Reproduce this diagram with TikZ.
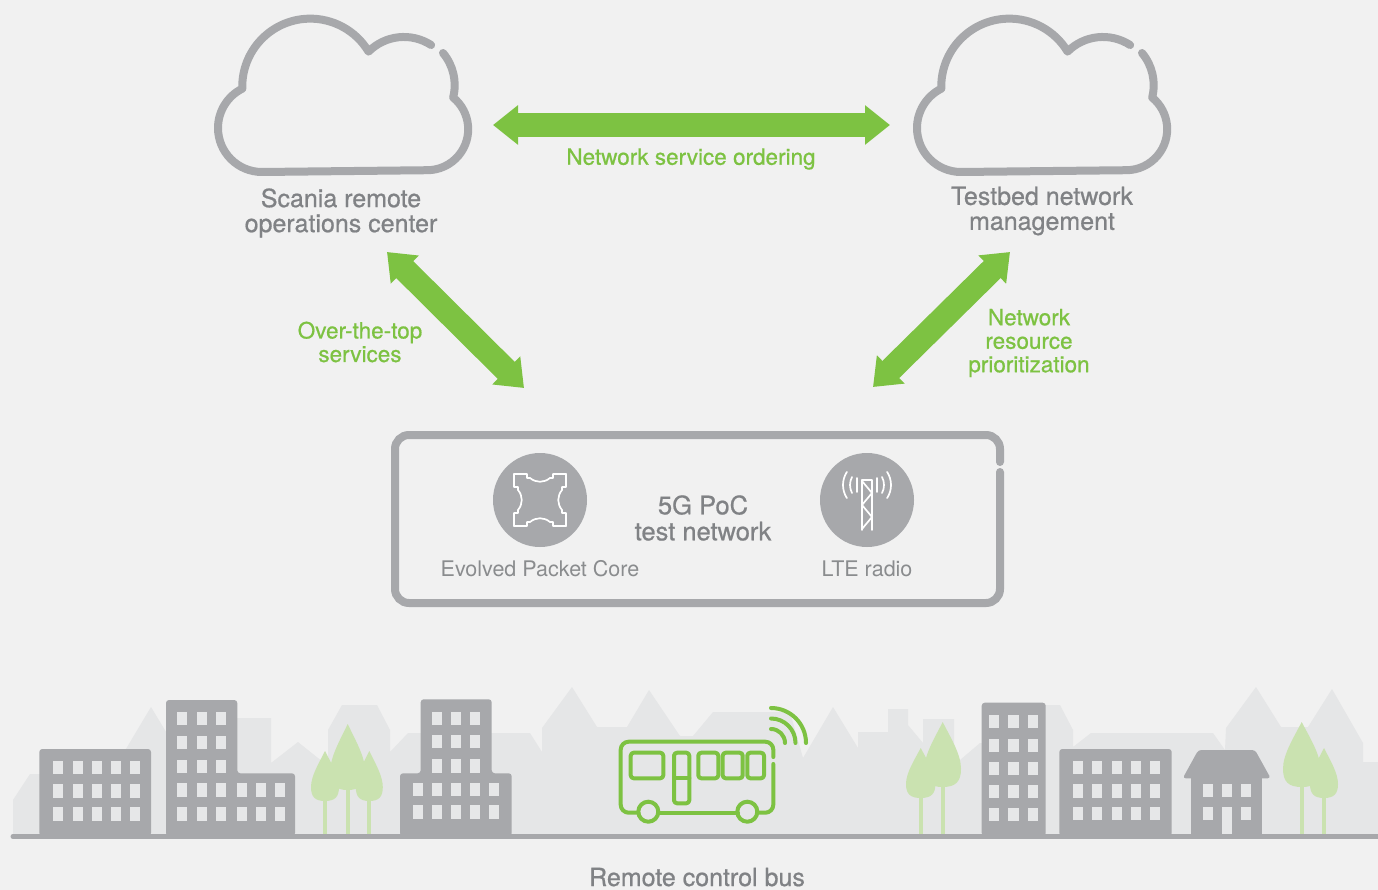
\documentclass[tikz,border=0pt]{standalone}
\usepackage{fontspec}
\setmainfont{TeX Gyre Heros}
\newfontfamily\medfont{TeX Gyre Heros}[FakeBold=0.7]
\usetikzlibrary{arrows.meta}
\definecolor{bgcol}{HTML}{F1F1F1}
\definecolor{skycol}{HTML}{E5E6E7}
\definecolor{bldcol}{HTML}{A7A8AB}
\definecolor{wincol}{HTML}{E6E7E8}
\definecolor{linegray}{HTML}{A7A8AB}
\definecolor{txtgray}{HTML}{808285}
\definecolor{softgray}{HTML}{8A8C8E}
\definecolor{netgreen}{HTML}{7DC242}
\definecolor{leafcol}{HTML}{CAE2B0}

% leaf of a tree: top x, top y, half width, height
\newcommand{\leafblob}[4]{%
  \fill[leafcol] (#1,#2)
    .. controls ({#1+0.45*#3},{#2+0.25*#4}) and ({#1+#3},{#2+0.5*#4}) .. ({#1+#3},{#2+0.72*#4})
    .. controls ({#1+#3},{#2+0.92*#4}) and ({#1+0.7*#3},{#2+#4}) .. (#1,{#2+#4})
    .. controls ({#1-0.7*#3},{#2+#4}) and ({#1-#3},{#2+0.92*#4}) .. ({#1-#3},{#2+0.72*#4})
    .. controls ({#1-#3},{#2+0.5*#4}) and ({#1-0.45*#3},{#2+0.25*#4}) .. (#1,#2) -- cycle;
  \draw[leafcol, line width=4pt] (#1,{#2+0.8*#4}) -- (#1,836);
}

\begin{document}
\begin{tikzpicture}[x=1pt,y=-1pt,
  cloudline/.style={draw=linegray, line width=8pt, line cap=round, line join=round},
  bigarrow/.style={draw=netgreen, line width=24pt,
    {Triangle[width=38pt,length=25pt]}-{Triangle[width=38pt,length=25pt]}},
  graylbl/.style={text=txtgray, align=center, inner sep=0pt, font=\medfont\fontsize{25}{25}\selectfont},
  greenlbl/.style={text=netgreen, align=center, inner sep=0pt, font=\medfont\fontsize{22.5}{23.5}\selectfont},
  iconlbl/.style={text=softgray, inner sep=0pt, font=\fontsize{21.5}{24}\selectfont},
  iconbg/.style={circle, fill=bldcol, minimum size=94pt, inner sep=0pt},
  iconline/.style={draw=white, line width=1.7pt, line join=round, line cap=round},
  busline/.style={draw=netgreen, line width=4pt, line cap=round, line join=round},
  bld/.style={fill=bldcol, rounded corners=3pt},
  cloudicon/.pic={
    \draw[cloudline] (443,53) arc[start angle=320, end angle=374.3, radius=50]
      arc[start angle=309.3, end angle=450, radius=41]
      -- (262,172)
      arc[start angle=90, end angle=243.4, radius=44]
      arc[start angle=178.3, end angle=329, radius=68]
      arc[start angle=225, end angle=303, radius=50];
  }]
\useasboundingbox (0,0) rectangle (1378,890);
\fill[bgcol] (0,0) rectangle (1378,890);

% ---------- skyline silhouette ----------
\fill[skycol] (13,836) -- (13,800) -- (30,774) -- (111,774) -- (151,707) -- (180,755)
  -- (200,755) -- (230,718) -- (271,718) -- (271,763) -- (298,742) -- (328,766)
  -- (328,730) -- (342,705) -- (377,705) -- (390,730) -- (390,752) -- (408,733)
  -- (530,733) -- (542,752) -- (542,728) -- (572,687) -- (597,727) -- (627,727)
  -- (649,690) -- (680,736) -- (693,736) -- (713,712) -- (790,712) -- (803,758)
  -- (833,707) -- (858,748) -- (858,732) -- (888,732) -- (888,709) -- (908,709)
  -- (908,725) -- (923,743) -- (923,719) -- (954,719) -- (954,760) -- (960,760)
  -- (980,743) -- (1000,743) -- (1045,705) -- (1060,705) -- (1073,730) -- (1073,747)
  -- (1091,733) -- (1213,733) -- (1225,750) -- (1226,728) -- (1256,687) -- (1281,727)
  -- (1308,727) -- (1332,689) -- (1363,743) -- (1363,762) -- (1378,762) -- (1378,836) -- cycle;

% ---------- buildings ----------
\fill[bld] (39.3,836) rectangle (151,749);
\foreach \x in {53.3,72.5,91.7,110.9,130.1}
  \foreach \y in {761,784.2,807.4}
    \fill[wincol] (\x,\y) rectangle ++(10,13.3);

\fill[bld] (166,836) -- (166,700) -- (237.3,700) -- (237.3,773.3) -- (295,773.3) -- (295,836) -- cycle;
\foreach \x in {177.3,196.7,216}
  \foreach \y in {711.7,735.6,759.6,783.4,807.3}
    \fill[wincol] (\x,\y) rectangle ++(10,13.3);
\foreach \x in {237.3,255.9,274.9}
  \foreach \y in {783.4,807.3}
    \fill[wincol] (\x,\y) rectangle ++(10,13.3);

\fill[bld] (400,836) -- (400,773.3) -- (420.7,773.3) -- (420.7,699.3) -- (491.7,699.3)
  -- (491.7,773.3) -- (511.7,773.3) -- (511.7,836) -- cycle;
\foreach \x in {431.7,450.7,470}
  \foreach \y in {711.7,735,759.3}
    \fill[wincol] (\x,\y) rectangle ++(10,13.3);
\foreach \x in {412.7,431.7,450.7,470,489.3}
  \foreach \y in {782.7,805.3}
    \fill[wincol] (\x,\y) rectangle ++(10,13.3);

\fill[bld] (981.7,836) rectangle (1045.7,702.7);
\foreach \x in {989,1008.3,1027.7}
  \foreach \y in {715,739,761.7,785,807.7}
    \fill[wincol] (\x,\y) rectangle ++(10.3,13.3);

\fill[bld] (1059.3,836) rectangle (1171.7,749);
\foreach \x in {1073.3,1092.3,1111.7,1131,1150}
  \foreach \y in {761,784.3,807}
    \fill[wincol] (\x,\y) rectangle ++(10,13.3);

% house
\fill[bld] (1182.7,778.3) -- (1198.3,750) -- (1255,750) -- (1270.7,778.3) -- cycle;
\fill[bldcol] (1191,776) rectangle (1262.3,836);
\foreach \x in {1202.7,1221.7,1241}
  \fill[wincol] (\x,784) rectangle ++(10,13.3);
\foreach \x in {1202.7,1241}
  \fill[wincol] (\x,807) rectangle ++(10,13.3);
\fill[wincol] (1221.7,807) rectangle (1231.7,836);

% ---------- trees ----------
\leafblob{347.7}{724}{17.5}{66}
\leafblob{325}{751}{14}{50}
\leafblob{369.3}{751}{13.5}{50}
\leafblob{942.7}{722}{18.3}{65}
\leafblob{920.7}{748}{14.7}{50}
\leafblob{1301.7}{722}{18.7}{65}
\leafblob{1324}{748}{14}{50}

% ground
\draw[draw=bldcol, line width=5pt, line cap=round] (13,836.5) -- (1395,836.5);

% ---------- bus ----------
\draw[busline, rounded corners=8pt] (773.3,764) -- (773.3,812.7) -- (757.3,812.7);
\draw[busline] (738,812.7) -- (658,812.7);
\draw[busline, rounded corners=8pt] (638.3,812.7) -- (620.7,812.7) -- (620.7,741.7) -- (773.3,741.7) -- (773.3,757);
\draw[busline] (648.3,811.7) circle[radius=10];
\draw[busline] (747.3,811.7) circle[radius=10];
\draw[busline, rounded corners=3pt] (630.7,752.7) rectangle (663.3,778.3);
\draw[busline, rounded corners=3pt] (674,752.7) rectangle (689.3,803.3);
\draw[busline] (674,778.3) -- (689.3,778.3);
\draw[busline, rounded corners=3pt] (698.3,752.7) rectangle (718.3,778.3);
\draw[busline, rounded corners=3pt] (722.7,752.7) rectangle (742.7,778.3);
\draw[busline, rounded corners=3pt] (747.3,752.7) rectangle (764,778.3);
\foreach \r in {14,24.5,35}
  \draw[busline] (771,{743-\r}) arc[start angle=270, end angle=360, radius=\r];

% ---------- test network box ----------
\draw[draw=linegray, line width=8pt, line cap=round, rounded corners=14pt]
  (1000,472) -- (1000,603) -- (395,603) -- (395,435) -- (1000,435) -- (1000,462);

\node[iconbg] (epc) at (540,500) {};
\begin{scope}[shift={(540,500)}]
  \foreach \r in {0,90,180,270}
    \draw[iconline, rotate=\r] (-26,-26) -- (-13,-26) -- (-13,-22) -- (-10,-22)
      .. controls (-4,-17) and (4,-17) .. (10,-22) -- (13,-22) -- (13,-26) -- (26,-26);
\end{scope}

\node[iconbg] (lte) at (867,500) {};
\begin{scope}[shift={(867,0)}]
  \draw[iconline] (-5,530) -- (-5,480) -- (5,480) -- (5,530);
  \draw[iconline] (-5,481) -- (5,493) -- (-5,505) -- (5,517) -- (-5,529);
  \draw[iconline] (-10,478) -- (-10,492);
  \draw[iconline] (10,478) -- (10,492);
  \draw[iconline] (0,485) ++(152:17) arc[start angle=152, end angle=208, radius=17];
  \draw[iconline] (0,485) ++(147:24) arc[start angle=147, end angle=213, radius=24];
  \draw[iconline] (0,485) ++(-28:17) arc[start angle=-28, end angle=28, radius=17];
  \draw[iconline] (0,485) ++(-33:24) arc[start angle=-33, end angle=33, radius=24];
\end{scope}

\node[graylbl, font=\medfont\fontsize{25.5}{26}\selectfont] (poc) at (703,518) {5G PoC\\test network};
\node[iconlbl] (epclbl) at (540,569) {Evolved Packet Core};
\node[iconlbl] (ltelbl) at (867,569) {LTE radio};

% ---------- clouds ----------
\pic at (0,0) {cloudicon};
\pic at (699,0) {cloudicon};
\node[graylbl] (scania) at (341,213) {Scania remote\\operations center};
\node[graylbl] (testbed) at (1042,211) {Testbed network\\management};

% ---------- arrows ----------
\coordinate (ordL) at (493,125);
\coordinate (ordR) at (890,125);
\coordinate (ottA) at (387,252);
\coordinate (ottB) at (524,388);
\coordinate (nrpA) at (1010,252);
\coordinate (nrpB) at (873,387);
\draw[bigarrow] (ordL) -- (ordR);
\draw[bigarrow] (ottA) -- (ottB);
\draw[bigarrow] (nrpA) -- (nrpB);

\node[greenlbl] (ordlbl) at (691,159) {Network service ordering};
\node[greenlbl] (ottlbl) at (360,342) {Over-the-top\\services};
\node[greenlbl] (nrplbl) at (1029,343) {Network\\resource\\prioritization};

\node[graylbl, anchor=base] (buslbl) at (697,886) {Remote control bus};
\end{tikzpicture}
\end{document}
